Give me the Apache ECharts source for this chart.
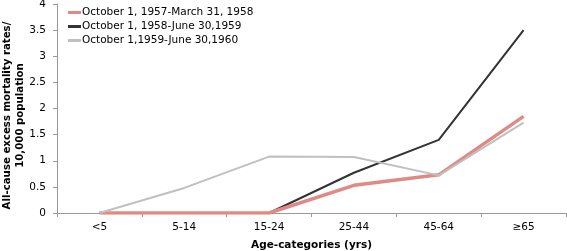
<!DOCTYPE html>
<html><head><meta charset="utf-8">
<script src="https://cdn.jsdelivr.net/npm/echarts@6/dist/echarts.min.js"></script>
<style>html,body{margin:0;padding:0;background:#fff}#c{width:567px;height:251px}</style>
</head><body><div id="c"></div>
<script>
const categories = ['<5','5-14','15-24','25-44','45-64','≥65'];
const series1957 = [0,0,0,0.53,0.73,1.85];
const series1958 = [0,0,0,0.77,1.40,3.50];
const series1959 = [0,0.48,1.08,1.07,0.72,1.73];
const seriesNames = ['October 1, 1957-March 31, 1958','October 1, 1958-June 30,1959','October 1,1959-June 30,1960'];
const yTicks = [0,0.5,1,1.5,2,2.5,3,3.5,4];

const font = 'DejaVu Sans, Verdana, sans-serif';
const chart = echarts.init(document.getElementById('c'));
chart.setOption({
  animation:false,
  textStyle:{fontFamily:font},
  legend:{
    left:63, top:2, orient:'vertical', itemGap:3, itemWidth:13, itemHeight:3,
    icon:'rect',
    textStyle:{fontSize:10.5, color:'#000', fontFamily:font, padding:[0,0,0,-4]},
    data:seriesNames
  },
  grid:{left:57, right:1, top:4, bottom:38, containLabel:false, outerBoundsMode:'none'},
  xAxis:{
    type:'category', data:categories, boundaryGap:true,
    axisLine:{lineStyle:{color:'#999'}},
    axisTick:{show:true, length:4, lineStyle:{color:'#999'}},
    axisLabel:{color:'#000', fontSize:10.5, fontFamily:font, margin:9},
    name:'Age-categories (yrs)', nameLocation:'middle', nameGap:27, nameMoveOverlap:false,
    nameTextStyle:{fontWeight:'bold', fontSize:10.5, color:'#000', fontFamily:font}
  },
  yAxis:{
    type:'value', min:0, max:4, interval:0.5,
    axisLine:{show:true, lineStyle:{color:'#999'}},
    axisTick:{show:true, length:4, lineStyle:{color:'#999'}},
    splitLine:{show:false},
    axisLabel:{color:'#000', fontSize:10.5, fontFamily:font, margin:11,
      formatter:v=>yTicks.includes(v)?String(v):''},
    name:'All-cause excess mortality rates/\n10,000 population', nameLocation:'middle', nameGap:30, nameMoveOverlap:false,
    nameTextStyle:{fontWeight:'bold', fontSize:10.2, color:'#000', fontFamily:font, lineHeight:13, padding:[0,14,0,0]}
  },
  series:[
    {name:seriesNames[0], type:'line', data:series1957, symbol:'none', z:3,
     lineStyle:{color:'#e08a86', width:3.5}, itemStyle:{color:'#e08a86'}},
    {name:seriesNames[1], type:'line', data:series1958, symbol:'none', z:2,
     lineStyle:{color:'#333333', width:2}, itemStyle:{color:'#333333'}},
    {name:seriesNames[2], type:'line', data:series1959, symbol:'none', z:4,
     lineStyle:{color:'#c0c0c0', width:2}, itemStyle:{color:'#c0c0c0'}}
  ]
});
</script></body></html>
